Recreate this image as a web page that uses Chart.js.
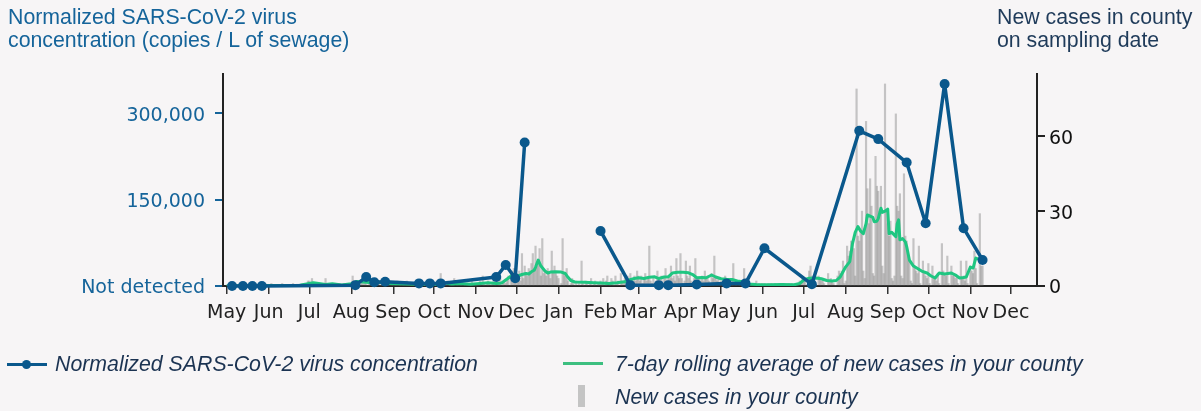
<!DOCTYPE html>
<html><head><meta charset="utf-8">
<script src="https://cdn.jsdelivr.net/npm/chart.js@4.4.1/dist/chart.umd.min.js"></script>
<style>
html,body{margin:0;padding:0;background:#f7f5f6;}
#wrap{position:relative;width:1201px;height:411px;overflow:hidden;background:#f7f5f6;}
canvas{position:absolute;left:0;top:0;}
.t{position:absolute;font-family:'Liberation Sans',Arial,sans-serif;font-size:21.3px;line-height:23px;white-space:nowrap;}
.lg{position:absolute;font-family:'Liberation Sans',Arial,sans-serif;font-size:21.3px;line-height:24px;font-style:italic;color:#1b3352;white-space:nowrap;}
.sw{position:absolute;}
</style></head><body>
<div id="wrap">
<canvas id="c" width="1201" height="411"></canvas>
<div class="t" style="left:8px;top:6px;color:#15649a">Normalized SARS-CoV-2 virus<br>concentration (copies / L of sewage)</div>
<div class="t" style="left:997px;top:6px;color:#1f3b5a">New cases in county<br>on sampling date</div>
<div class="sw" style="left:7px;top:363px;width:40px;height:3px;background:#0a588c"></div>
<div class="sw" style="left:22px;top:360px;width:9px;height:9px;border-radius:50%;background:#0a588c"></div>
<div class="lg" style="left:55px;top:352px">Normalized SARS-CoV-2 virus concentration</div>
<div class="sw" style="left:563px;top:362px;width:40px;height:3px;background:#3dbf80"></div>
<div class="lg" style="left:615px;top:352px">7-day rolling average of new cases in your county</div>
<div class="sw" style="left:578px;top:385px;width:7px;height:22px;background:#c4c4c4"></div>
<div class="lg" style="left:615px;top:385px">New cases in your county</div>
</div>
<script>
// ---------- DATA ----------
const monthTickDates = ['2020-05-01','2020-06-01','2020-07-01','2020-08-01','2020-09-01','2020-10-01','2020-11-01','2020-12-01','2021-01-01','2021-02-01','2021-03-01','2021-04-01','2021-05-01','2021-06-01','2021-07-01','2021-08-01','2021-09-01','2021-10-01','2021-11-01','2021-12-01'];
const monthTickLabels = ['May','Jun','Jul','Aug','Sep','Oct','Nov','Dec','Jan','Feb','Mar','Apr','May','Jun','Jul','Aug','Sep','Oct','Nov','Dec'];
const leftTicks = [0, 150000, 300000];
const rightTicks = [0, 30, 60];

// virus concentration samples [date, copies/L] (null = gap)
const virusSamples = [
 ['2020-05-05',0],['2020-05-13',0],['2020-05-20',0],['2020-05-27',0],
 ['2020-08-04',1500],['2020-08-12',15500],['2020-08-18',6400],['2020-08-26',7500],
 ['2020-09-20',4500],['2020-09-28',4500],['2020-10-06',4500],
 ['2020-11-16',15500],['2020-11-23',36500],['2020-11-30',13400],['2020-12-07',249000],
 ['2021-01-10',null],
 ['2021-02-01',95600],['2021-02-23',1500],['2021-03-16',1500],['2021-03-23',1500],['2021-04-13',2500],
 ['2021-05-05',4500],['2021-05-19',4500],['2021-06-02',65500],['2021-07-07',3000],
 ['2021-08-11',269400],['2021-08-25',255000],['2021-09-15',214300],['2021-09-29',109000],
 ['2021-10-13',350500],['2021-10-27',100300],['2021-11-10',45200]
];

// daily new cases, one array per month (first value = 1st of month)
const cases2020May = [0,0,0,0,0,0,0, 0,0,0,0,0,1,0, 0,0,0,0,0,0,0, 0,0,0,0,1,0,0, 0,0,0];
const cases2020Jun = [0,0,1,0,0,0,0, 0,0,0,1,0,0,0, 0,0,0,0,1,0,0, 0,0,0,0,1,0,0, 1,2];
const cases2020Jul = [2,1,3,0,0,1,1, 0,1,0,0,0,3,1, 0,0,1,0,0,1,0, 0,1,0,0,0,1,0, 0,1,0];
const cases2020Aug = [1,4,2,1,2,0,1, 2,1,3,2,1,0,2, 1,2,1,3,0,1,2, 1,0,2,1,1,2,0, 1,1,0];
const cases2020Sep = [1,0,1,2,0,1,1, 0,1,0,2,1,0,1, 0,1,1,0,1,0,2, 1,0,1,0,1,1,0, 1,0];
const cases2020Oct = [1,0,1,0,1,5,0, 1,1,0,2,0,1,1, 0,3,1,0,1,0,1, 2,0,1,0,1,1,0, 2,1,0];
const cases2020Nov = [1,0,1,2,1,4,1, 0,1,2,1,0,1,2, 0,1,2,1,3,0,1, 2,1,3,4,0,5,6, 7,4];
const cases2020Dec = [5,3,6,2,13,3,8, 5,4,7,6,9,13,7, 16,8,10,15,4,19,5, 6,4,7,5,3,14,6, 8,5,4];
const cases2021Jan = [3,0,1,19,5,4,7, 2,0,1,3,1,0,2, 0,1,0,10,1,0,2, 1,0,1,3,0,1,2, 0,1,1];
const cases2021Feb = [2,1,3,0,2,4,0, 1,3,2,0,4,1,2, 0,5,2,1,3,0,4, 2,5,3,1,4,2,6];
const cases2021Mar = [4,2,4,1,3,5,2, 3,16,2,1,3,0,2, 6,3,2,4,1,3,7, 2,4,3,8,3,4,2, 11,4,3];
const cases2021Apr = [13,3,1,2,10,4,3, 8,2,1,3,11,2,3, 3,2,4,2,6,3,4, 2,1,5,3,12,4,2, 3,1];
const cases2021May = [2,1,3,4,2,1,3, 0,2,9,1,0,1,2, 0,1,1,7,2,0,1, 0,1,0,1,0,2,0, 1,0,1];
const cases2021Jun = [0,1,0,0,1,0,1, 0,0,1,0,0,1,0, 0,1,0,0,0,1,0, 1,0,0,1,0,0,2, 1,3];
const cases2021Jul = [3,2,0,0,6,8,4, 3,2,0,0,4,3,2, 3,1,0,0,5,2,3, 2,1,0,0,4,6,5, 6,10,1];
const cases2021Aug = [2,16,12,14,18,18,15, 4,79,20,18,22,30,6, 3,66,39,25,43,32,5, 4,52,40,38,30,40,8, 5,81,30];
const cases2021Sep = [25,20,26,3,2,4,69, 32,30,37,4,3,45,20, 18,12,10,2,1,19,8, 6,5,16,1,0,10,5, 4,3];
const cases2021Oct = [9,1,0,8,4,3,2, 5,1,0,17,6,5,4, 12,1,0,8,4,5,3, 4,1,0,10,3,4,2, 10,1,0];
const cases2021Nov = [8,6,5,14,7,1,0,29,8,8];
const caseMonths = [
 ['2020-05-01',cases2020May],['2020-06-01',cases2020Jun],['2020-07-01',cases2020Jul],['2020-08-01',cases2020Aug],
 ['2020-09-01',cases2020Sep],['2020-10-01',cases2020Oct],['2020-11-01',cases2020Nov],['2020-12-01',cases2020Dec],
 ['2021-01-01',cases2021Jan],['2021-02-01',cases2021Feb],['2021-03-01',cases2021Mar],['2021-04-01',cases2021Apr],
 ['2021-05-01',cases2021May],['2021-06-01',cases2021Jun],['2021-07-01',cases2021Jul],['2021-08-01',cases2021Aug],
 ['2021-09-01',cases2021Sep],['2021-10-01',cases2021Oct],['2021-11-01',cases2021Nov]
];

// 7-day rolling average [date, cases]
const rollingAvg = [
 ['2020-05-01',0.1],['2020-06-01',0.2],['2020-06-24',0.3],['2020-06-30',0.9],['2020-07-04',1.3],['2020-07-08',1.0],
 ['2020-07-13',0.6],['2020-07-18',0.9],['2020-07-25',0.4],['2020-08-01',0.9],['2020-08-05',1.8],['2020-08-10',1.6],
 ['2020-08-16',1.3],['2020-08-22',1.5],['2020-08-28',1.0],['2020-09-05',0.9],['2020-09-12',0.8],['2020-09-20',0.7],
 ['2020-09-28',0.8],['2020-10-04',0.6],['2020-10-08',1.3],['2020-10-14',0.8],['2020-10-20',1.0],['2020-10-28',0.7],
 ['2020-11-04',1.0],['2020-11-10',1.3],['2020-11-16',1.0],['2020-11-20',1.2],['2020-11-23',2.4],['2020-11-27',4.0],
 ['2020-12-02',4.0],['2020-12-05',4.6],['2020-12-08',5.0],['2020-12-10',4.8],['2020-12-12',5.7],['2020-12-14',6.3],
 ['2020-12-15',7.5],['2020-12-17',10.4],['2020-12-19',8.0],['2020-12-22',6.0],['2020-12-24',5.2],['2020-12-26',5.6],
 ['2020-12-30',5.7],['2021-01-03',5.6],['2021-01-06',5.0],['2021-01-08',3.5],['2021-01-10',2.2],['2021-01-13',1.6],
 ['2021-01-20',1.5],['2021-01-27',1.3],['2021-02-01',1.2],['2021-02-07',1.0],['2021-02-13',1.3],['2021-02-19',1.7],
 ['2021-02-22',2.4],['2021-02-26',3.0],['2021-03-01',3.3],['2021-03-05',3.0],['2021-03-09',3.5],['2021-03-13',3.7],
 ['2021-03-16',3.0],['2021-03-20',3.6],['2021-03-23',3.7],['2021-03-26',5.2],['2021-03-30',5.5],['2021-04-03',5.5],
 ['2021-04-07',5.3],['2021-04-10',4.6],['2021-04-13',3.3],['2021-04-17',3.4],['2021-04-20',3.3],['2021-04-24',4.4],
 ['2021-04-27',3.6],['2021-05-01',2.9],['2021-05-05',2.7],['2021-05-09',2.6],['2021-05-13',2.0],['2021-05-17',1.7],
 ['2021-05-20',0.8],['2021-05-27',0.6],['2021-06-05',0.5],['2021-06-15',0.6],['2021-06-24',0.5],['2021-06-28',1.0],
 ['2021-07-01',2.4],['2021-07-05',3.1],['2021-07-10',3.2],['2021-07-14',2.9],['2021-07-18',2.2],['2021-07-22',2.0],
 ['2021-07-25',2.2],['2021-07-28',3.7],['2021-08-01',7.7],['2021-08-04',9.8],['2021-08-06',17.0],['2021-08-08',21.5],
 ['2021-08-10',23.8],['2021-08-12',22.0],['2021-08-14',21.0],['2021-08-16',25.0],['2021-08-17',28.5],['2021-08-19',28.0],
 ['2021-08-21',27.5],['2021-08-22',25.8],['2021-08-24',26.0],['2021-08-25',27.0],['2021-08-27',31.2],['2021-08-28',29.5],
 ['2021-08-30',30.0],['2021-09-01',30.8],['2021-09-02',21.0],['2021-09-04',21.5],['2021-09-07',19.8],['2021-09-08',25.0],
 ['2021-09-09',26.5],['2021-09-10',18.5],['2021-09-12',19.0],['2021-09-14',17.7],['2021-09-15',15.8],['2021-09-17',10.4],
 ['2021-09-20',8.0],['2021-09-23',7.0],['2021-09-26',6.0],['2021-09-30',5.2],['2021-10-03',4.0],['2021-10-06',3.2],
 ['2021-10-09',5.2],['2021-10-13',4.8],['2021-10-18',5.2],['2021-10-21',4.4],['2021-10-24',3.2],['2021-10-27',3.4],
 ['2021-10-29',3.6],['2021-11-01',7.6],['2021-11-03',7.2],['2021-11-05',11.2],['2021-11-08',10.6],['2021-11-10',11.0]
];

// ---------- BUILD ----------
const ORIGIN = Date.UTC(2020,4,1);
function dayOf(iso){ const [y,m,d] = iso.split('-').map(Number); return (Date.UTC(y,m-1,d)-ORIGIN)/86400000; }
const tickDays = monthTickDates.map(dayOf);
const tickLabelMap = {}; tickDays.forEach((d,i)=>tickLabelMap[d]=monthTickLabels[i]);

const virusData = virusSamples.map(([d,v])=>({x:dayOf(d), y:v}));
const avgData = rollingAvg.map(([d,v])=>({x:dayOf(d), y:v}));
const barData = [];
caseMonths.forEach(([start,arr])=>{ const s = dayOf(start); arr.forEach((v,i)=>barData.push({x:s+i, y:v})); });

const BLUE = '#0a588c';
const fontTick = {family:"'DejaVu Sans', sans-serif", size:19};

new Chart(document.getElementById('c'), {
  type:'bar',
  data:{ datasets:[
    { type:'line', label:'Normalized SARS-CoV-2 virus concentration', data:virusData, yAxisID:'y',
      borderColor:BLUE, backgroundColor:BLUE, borderWidth:3.5, pointRadius:5, pointBorderWidth:0,
      borderJoinStyle:'round', borderCapStyle:'round',
      pointBackgroundColor:BLUE, spanGaps:false, tension:0, order:1, clip:false },
    { type:'line', label:'7-day rolling average of new cases in your county', data:avgData, yAxisID:'y1',
      borderColor:'#1fc681', borderWidth:3, pointRadius:0, tension:0, order:2, borderJoinStyle:'round' },
    { type:'bar', label:'New cases in your county', data:barData, yAxisID:'y1',
      backgroundColor:'rgba(145,145,145,0.5)', barThickness:1.5, order:3 }
  ]},
  options:{
    responsive:false, animation:false,
    layout:{padding:{top:74,left:0,right:0,bottom:0}},
    plugins:{legend:{display:false}, tooltip:{enabled:false}},
    scales:{
      x:{ type:'linear', min:-2.7, max:598.2, offset:false,
        grid:{drawOnChartArea:false, drawTicks:true, tickLength:8, color:'#333', lineWidth:1.5, offset:false},
        border:{display:true, color:'#222', width:2},
        ticks:{font:fontTick, color:'#222', autoSkip:false, maxRotation:0, padding:8,
          callback:(v)=> tickLabelMap[v] ?? ''},
        afterBuildTicks:(s)=>{ s.ticks = tickDays.map(v=>({value:v})); },
        afterFit:(s)=>{ s.height = 411-286; } },
      y:{ type:'linear', position:'left', min:0, max:368000,
        grid:{drawOnChartArea:false, drawTicks:true, tickLength:8, color:'#15649a', lineWidth:2},
        border:{display:true, color:'#222', width:2},
        ticks:{font:fontTick, color:'#15649a', padding:10, labelOffset:2.5,
          callback:(v)=> v===0 ? 'Not detected' : v.toLocaleString('en-US')},
        afterBuildTicks:(s)=>{ s.ticks = leftTicks.map(v=>({value:v})); },
        afterFit:(s)=>{ s.width = 223; } },
      y1:{ type:'linear', position:'right', min:0, max:85,
        grid:{drawOnChartArea:false, drawTicks:true, tickLength:8, color:'#222', lineWidth:2},
        border:{display:true, color:'#222', width:2},
        ticks:{font:fontTick, color:'#111', padding:4, labelOffset:2.5},
        afterBuildTicks:(s)=>{ s.ticks = rightTicks.map(v=>({value:v})); },
        afterFit:(s)=>{ s.width = 1201-1037; } }
    }
  }
});
</script>
</body></html>
